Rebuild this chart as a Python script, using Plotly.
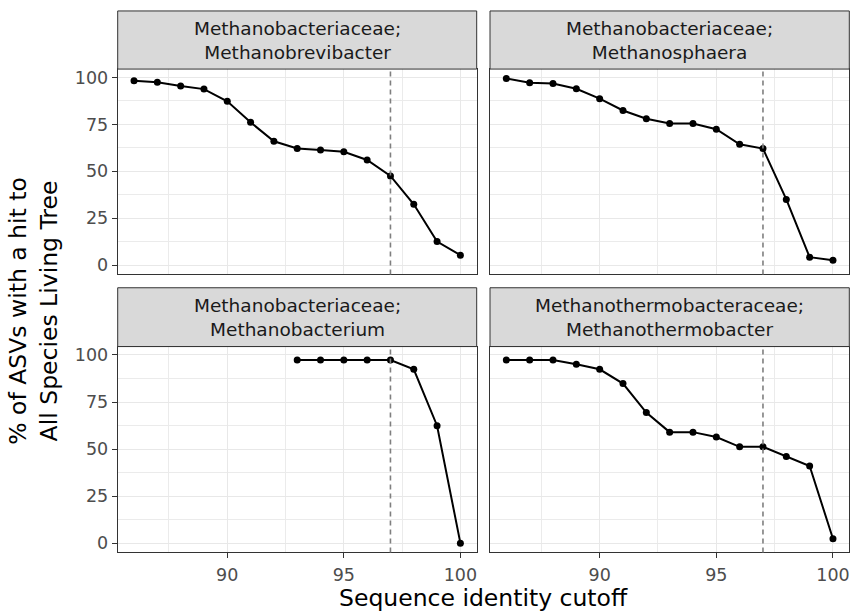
import plotly.graph_objects as go

W, H = 856, 613

facet_titles = [
    "Methanobacteriaceae;<br>Methanobrevibacter",
    "Methanobacteriaceae;<br>Methanosphaera",
    "Methanobacteriaceae;<br>Methanobacterium",
    "Methanothermobacteraceae;<br>Methanothermobacter",
]

cutoff_full = [86, 87, 88, 89, 90, 91, 92, 93, 94, 95, 96, 97, 98, 99, 100]
cutoff_bacterium = [93, 94, 95, 96, 97, 98, 99, 100]

pct_brevibacter = [98.2, 97.4, 95.4, 93.8, 87.3, 76.1, 66.0, 62.1, 61.3, 60.4, 56.0, 47.5, 32.4, 12.5, 5.3]
pct_sphaera = [99.5, 97.2, 96.8, 94.0, 88.7, 82.4, 78.0, 75.5, 75.5, 72.4, 64.4, 62.1, 35.0, 4.2, 2.6]
pct_bacterium = [97.3, 97.3, 97.3, 97.3, 97.3, 92.4, 62.4, 0.0]
pct_thermobacter = [97.3, 97.3, 97.3, 95.1, 92.4, 84.8, 69.4, 59.0, 59.0, 56.4, 51.2, 51.2, 46.1, 41.0, 2.3]

series_x = [cutoff_full, cutoff_full, cutoff_bacterium, cutoff_full]
series_y = [pct_brevibacter, pct_sphaera, pct_bacterium, pct_thermobacter]

x_ticks = [90, 95, 100]
y_ticks = [0, 25, 50, 75, 100]
threshold = 97

x_title = "Sequence identity cutoff"
y_title = "% of ASVs with a hit to<br>All Species Living Tree"

# layout geometry (pixels)
px_l = [117.7, 490.0]
px_r = [476.7, 849.3]
plot_top = [68.3, 346.7]
plot_bot = [274.3, 553.3]
strip_top = [10.0, 287.7]

def fx(p):
    return p / W

def fy(p):
    return (H - p) / H

xr = [85.3, 100.7]
yr = [-4.975, 104.475]

fig = go.Figure()
layout = dict(
    width=W, height=H, margin=dict(l=0, r=0, t=0, b=0),
    paper_bgcolor="white", plot_bgcolor="white", showlegend=False,
    font=dict(family="DejaVu Sans", color="#4D4D4D"),
)
shapes = []
annotations = []

for i in range(4):
    row, col = i // 2, i % 2
    n = "" if i == 0 else str(i + 1)
    fig.add_trace(go.Scatter(
        x=series_x[i], y=series_y[i], mode="lines+markers",
        line=dict(color="black", width=2),
        marker=dict(color="black", size=7),
        xaxis="x" + n, yaxis="y" + n, hoverinfo="x+y",
    ))
    layout["xaxis" + n] = dict(
        domain=[fx(px_l[col]), fx(px_r[col])], anchor="y" + n,
        range=xr, tickvals=x_ticks, showticklabels=(row == 1),
        ticks="outside" if row == 1 else "", ticklen=5, tickwidth=1.2, tickcolor="#333333",
        ticklabelstandoff=2,
        tickfont=dict(size=17.5, color="#4D4D4D"),
        showgrid=True, gridcolor="#E8E8E8", gridwidth=1.4,
        minor=dict(dtick=2.5, tick0=87.5, showgrid=True, gridcolor="#EBEBEB", gridwidth=0.7),
        showline=True, mirror=True, linecolor="#333333", linewidth=1,
        zeroline=False, fixedrange=True,
    )
    layout["yaxis" + n] = dict(
        domain=[fy(plot_bot[row]), fy(plot_top[row])], anchor="x" + n,
        range=yr, tickvals=y_ticks, showticklabels=(col == 0),
        ticks="outside" if col == 0 else "", ticklen=5, tickwidth=1.2, tickcolor="#333333",
        tickfont=dict(size=17.5, color="#4D4D4D"),
        showgrid=True, gridcolor="#E8E8E8", gridwidth=1.4,
        minor=dict(dtick=12.5, tick0=12.5, showgrid=True, gridcolor="#EBEBEB", gridwidth=0.7),
        showline=True, mirror=True, linecolor="#333333", linewidth=1,
        zeroline=False, fixedrange=True,
    )
    shapes.append(dict(
        type="line", xref="x" + n, yref="y" + n + " domain",
        x0=threshold, x1=threshold, y0=0, y1=1,
        line=dict(color="#7F7F7F", width=1.6, dash="5px,4px"), layer="above",
    ))
    shapes.append(dict(
        type="rect", xref="paper", yref="paper",
        x0=fx(px_l[col]), x1=fx(px_r[col]), y0=fy(plot_top[row]), y1=fy(strip_top[row]),
        fillcolor="#D9D9D9", line=dict(color="#333333", width=1),
    ))
    annotations.append(dict(
        text=facet_titles[i], xref="paper", yref="paper",
        x=(fx(px_l[col]) + fx(px_r[col])) / 2,
        y=(fy(plot_top[row]) + fy(strip_top[row])) / 2,
        xanchor="center", yanchor="middle", showarrow=False,
        font=dict(size=18.5, color="#1A1A1A", family="DejaVu Sans"),
    ))

annotations.append(dict(
    text=x_title, xref="paper", yref="paper",
    x=fx((px_l[0] + px_r[1]) / 2), y=fy(599), xanchor="center", yanchor="middle",
    showarrow=False, font=dict(size=23.5, color="black", family="DejaVu Sans"),
))
annotations.append(dict(
    text=y_title, xref="paper", yref="paper",
    x=fx(34), y=fy((plot_top[0] + plot_bot[1]) / 2), xanchor="center", yanchor="middle",
    textangle=-90, showarrow=False, font=dict(size=23.5, color="black", family="DejaVu Sans"),
))

layout["shapes"] = shapes
layout["annotations"] = annotations
fig.update_layout(**layout)
fig.write_html("out.html")
